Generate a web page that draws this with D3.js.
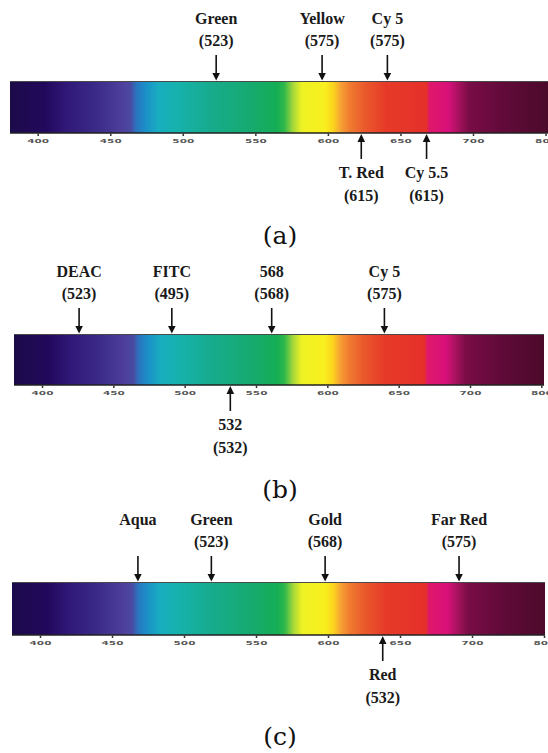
<html>
<head>
  <title>Spectrum</title>
  <script src='https://d3js.org/d3.v7.min.js'></script>
  <meta http-equiv="content-type" content="text/html;charset=UTF-8">
  <style>
    body { margin: 0; background: #fff; }
    #fig { display: block; }
    .name { font-family: 'Liberation Serif', serif; font-weight: bold; font-size: 16px; fill: #1a1a1a; }
    .caption { font-family: 'DejaVu Serif', serif; font-size: 25px; fill: #111; }
    .axis text { font-family: 'DejaVu Sans', sans-serif; font-weight: bold; font-size: 7px; fill: #555; }
  </style>
</head>
<body>
  <svg id="fig"></svg>
  <script>
    // axis
    var tickValues = [400, 450, 500, 550, 600, 650, 700, 750];
    var tickLabels = ["400", "450", "500", "550", "600", "650", "700", "800"];

    // spectrum colour stops (nm, colour)
    var spectrumNm = [381, 405, 420, 440, 458, 464, 468, 474, 483, 495, 520, 545, 565, 570, 576, 582, 598, 604, 609, 615, 625, 640, 668, 670, 683, 690, 697, 720, 751];
    var spectrumColors = ["#1c0b4a", "#22085c", "#301878", "#3b2a88", "#4e3f9c", "#4a4aa2", "#2a74be", "#1b8ec8", "#18adc0", "#16b2ae",
      "#17ab8c", "#16aa72", "#15ae55", "#30b84a", "#a6d83a", "#eef224", "#f9ef1e", "#fcd21e", "#f6a034", "#f07c30",
      "#ea5a2c", "#e63a28", "#e5302a", "#e0186a", "#d8107a", "#a8125e", "#7a0c46", "#620a3a", "#4c0a2a"];

    // panel (a)
    var namesA = ["Green", "Yellow", "Cy 5", "T. Red", "Cy 5.5"];
    var peaksA = ["(523)", "(575)", "(575)", "(615)", "(615)"];
    var nmA = [523, 596, 641, 623, 668];
    var sidesA = ["top", "top", "top", "bottom", "bottom"];

    // panel (b)
    var namesB = ["DEAC", "FITC", "568", "Cy 5", "532"];
    var peaksB = ["(523)", "(495)", "(568)", "(575)", "(532)"];
    var nmB = [426, 491, 561, 640, 532];
    var sidesB = ["top", "top", "top", "top", "bottom"];

    // panel (c)
    var namesC = ["Aqua", "Green", "Gold", "Far Red", "Red"];
    var peaksC = ["", "(523)", "(568)", "(575)", "(532)"];
    var nmC = [468, 519, 598, 691, 638];
    var sidesC = ["top", "top", "top", "top", "bottom"];

    var captions = ["(a)", "(b)", "(c)"];

    var width = 548, height = 753;
    var svg = d3.select('#fig').attr('width', width).attr('height', height);
    var defs = svg.append('defs');

    var panels = [
      {names: namesA, peaks: peaksA, nm: nmA, sides: sidesA, top: 81, bottom: 133, left: 10, right: 548, r: [37.7, 473], cap: 244},
      {names: namesB, peaks: peaksB, nm: nmB, sides: sidesB, top: 334, bottom: 385, left: 14, right: 544, r: [42, 470], cap: 498},
      {names: namesC, peaks: peaksC, nm: nmC, sides: sidesC, top: 582, bottom: 635, left: 12, right: 545, r: [40, 472], cap: 745}
    ];

    panels.forEach(function(p, i) {
      var x = d3.scaleLinear().domain([400, 700]).range(p.r);
      var g = svg.append('g');

      var lo = spectrumNm[0], hi = spectrumNm[spectrumNm.length - 1];
      var grad = defs.append('linearGradient')
        .attr('id', 'spec' + i)
        .attr('gradientUnits', 'userSpaceOnUse')
        .attr('x1', x(lo)).attr('x2', x(hi))
        .attr('y1', 0).attr('y2', 0);
      grad.selectAll('stop')
        .data(spectrumNm)
        .enter().append('stop')
        .attr('offset', d => (d - lo) / (hi - lo))
        .attr('stop-color', (d, j) => spectrumColors[j]);

      g.append('rect')
        .attr('x', p.left).attr('y', p.top)
        .attr('width', p.right - p.left).attr('height', p.bottom - p.top)
        .attr('fill', 'url(#spec' + i + ')');
      g.append('line')
        .attr('x1', p.left).attr('x2', p.right).attr('y1', p.top + 0.5).attr('y2', p.top + 0.5)
        .attr('stroke', '#4a4a4a').attr('stroke-width', 1);
      g.append('line')
        .attr('x1', p.left).attr('x2', p.right).attr('y1', p.bottom).attr('y2', p.bottom)
        .attr('stroke', '#222').attr('stroke-width', 1.5);

      var axis = d3.axisBottom(x)
        .tickValues(tickValues)
        .tickFormat((d, j) => tickLabels[j])
        .tickSize(2.5)
        .tickPadding(0);
      var ax = g.append('g')
        .attr('class', 'axis')
        .attr('transform', 'translate(0,' + (p.bottom + 0.5) + ')')
        .call(axis);
      ax.select('.domain').remove();
      ax.selectAll('line').attr('stroke', '#333').attr('stroke-width', 1.5);
      ax.selectAll('text')
        .attr('y', 12).attr('dy', 0)
        .attr('transform', 'scale(1.5,0.8)');

      // markers
      p.names.forEach(function(name, j) {
        var xp = x(p.nm[j]);
        var m = g.append('g');
        if (p.sides[j] === 'top') {
          m.append('line')
            .attr('x1', xp).attr('x2', xp)
            .attr('y1', p.top - 26).attr('y2', p.top - 6)
            .attr('stroke', '#111').attr('stroke-width', 1.6);
          m.append('path')
            .attr('d', 'M' + (xp - 3.8) + ',' + (p.top - 8) + 'L' + (xp + 3.8) + ',' + (p.top - 8) + 'L' + xp + ',' + (p.top - 0.5) + 'Z')
            .attr('fill', '#111');
          m.append('text').attr('class', 'name')
            .attr('x', xp).attr('y', p.top - 57).attr('text-anchor', 'middle')
            .text(name);
          m.append('text').attr('class', 'name')
            .attr('x', xp).attr('y', p.top - 35).attr('text-anchor', 'middle')
            .text(p.peaks[j]);
        } else {
          m.append('line')
            .attr('x1', xp).attr('x2', xp)
            .attr('y1', p.bottom + 6).attr('y2', p.bottom + 26)
            .attr('stroke', '#111').attr('stroke-width', 1.6);
          m.append('path')
            .attr('d', 'M' + (xp - 3.8) + ',' + (p.bottom + 9) + 'L' + (xp + 3.8) + ',' + (p.bottom + 9) + 'L' + xp + ',' + (p.bottom + 1) + 'Z')
            .attr('fill', '#111');
          m.append('text').attr('class', 'name')
            .attr('x', xp).attr('y', p.bottom + 45).attr('text-anchor', 'middle')
            .text(name);
          m.append('text').attr('class', 'name')
            .attr('x', xp).attr('y', p.bottom + 68).attr('text-anchor', 'middle')
            .text(p.peaks[j]);
        }
      });

      svg.append('text').attr('class', 'caption')
        .attr('x', 280).attr('y', p.cap).attr('text-anchor', 'middle')
        .text(captions[i]);
    });
  </script>
</body>
</html>
